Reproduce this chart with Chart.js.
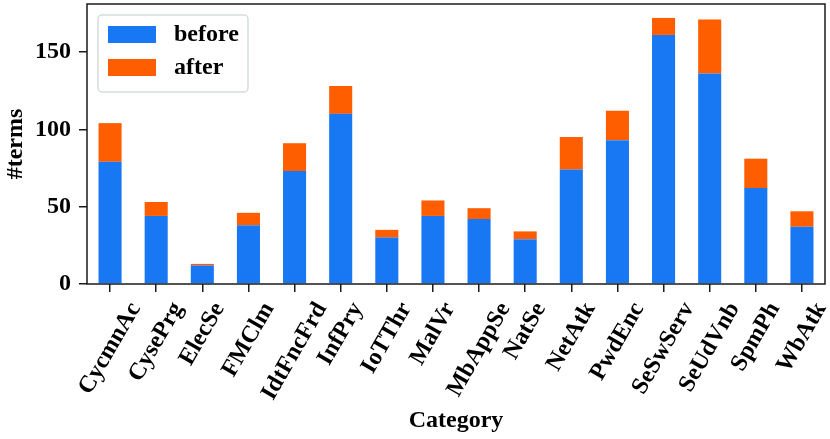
<!DOCTYPE html>
<html>
<head>
<meta charset="utf-8">
<script src="https://cdn.jsdelivr.net/npm/chart.js@4.4.0/dist/chart.umd.min.js"></script>
<style>
  html, body { margin: 0; padding: 0; background: #fff; }
  #wrap { width: 830px; height: 439px; }
</style>
</head>
<body>
<div id="wrap"><canvas id="myChart" width="830" height="439"></canvas></div>
<script>
// data
var categories = ['CycmnAc', 'CysePrg', 'ElecSe', 'FMClm', 'IdtFncFrd', 'InfPry', 'IoTThr', 'MalVr',
                  'MbAppSe', 'NatSe', 'NetAtk', 'PwdEnc', 'SeSwServ', 'SeUdVnb', 'SpmPh', 'WbAtk'];
var before = [79, 44, 12, 38, 73, 110, 30, 44, 42, 29, 74, 93, 161, 136, 62, 37];
var after = [25, 9, 1, 8, 18, 18, 5, 10, 7, 5, 21, 19, 11, 35, 19, 10];
var yTicks = [0, 50, 100, 150];
var yMax = 181;

var FONT = 'Liberation Serif, Times New Roman, serif';
var FSIZE = 24;
var blue = '#1877F2';
var orange = '#FF5E00';

// full box round the plot
var framePlugin = {
    id: 'frame',
    afterDraw: function (chart) {
        var a = chart.chartArea, ctx = chart.ctx;
        ctx.save();
        ctx.strokeStyle = '#1a1a1a';
        ctx.lineWidth = 1.5;
        ctx.strokeRect(a.left, a.top, a.right - a.left, a.bottom - a.top);
        ctx.restore();
    }
};

// category labels, rotated 60 deg and centred under the tick like matplotlib
var xLabelPlugin = {
    id: 'xlabels',
    afterDraw: function (chart) {
        var ctx = chart.ctx, xs = chart.scales.x;
        var top = chart.chartArea.bottom + 14;
        var h = FSIZE * 1.1;
        ctx.save();
        ctx.font = 'bold ' + FSIZE + 'px ' + FONT;
        ctx.fillStyle = '#000';
        ctx.textAlign = 'center';
        ctx.textBaseline = 'middle';
        for (var i = 0; i < categories.length; i++) {
            var x = xs.getPixelForTick(i);
            var w = ctx.measureText(categories[i]).width;
            var bh = w * Math.sin(Math.PI / 3) + h * Math.cos(Math.PI / 3);
            ctx.save();
            ctx.translate(x, top + bh / 2);
            ctx.rotate(-Math.PI / 3);
            ctx.fillText(categories[i], 0, 0);
            ctx.restore();
        }
        ctx.restore();
    }
};

// legend box in the upper left of the plot
var legendPlugin = {
    id: 'boxlegend',
    afterDraw: function (chart) {
        var ctx = chart.ctx, a = chart.chartArea;
        var x0 = a.left + 11, y0 = a.top + 11, bw = 150, bh = 77, r = 4;
        ctx.save();
        ctx.beginPath();
        ctx.roundRect(x0, y0, bw, bh, r);
        ctx.fillStyle = 'rgba(255,255,255,0.8)';
        ctx.fill();
        ctx.strokeStyle = '#d5dcdc';
        ctx.lineWidth = 1.5;
        ctx.stroke();
        ctx.font = 'bold ' + FSIZE + 'px ' + FONT;
        ctx.textBaseline = 'middle';
        ctx.textAlign = 'left';
        chart.data.datasets.forEach(function (ds, i) {
            var py = y0 + 11 + i * 33;
            ctx.fillStyle = ds.backgroundColor;
            ctx.fillRect(x0 + 10, py, 48, 17);
            ctx.fillStyle = '#000';
            ctx.fillText(ds.label, x0 + 76, py + 9);
        });
        ctx.restore();
    }
};

var ctx = document.getElementById('myChart').getContext('2d');
var chart = new Chart(ctx, {
    type: 'bar',
    data: {
        labels: categories,
        datasets: [{
            label: 'before',
            data: before,
            backgroundColor: blue,
            barPercentage: 0.5,
            categoryPercentage: 1.0
        }, {
            label: 'after',
            data: after,
            backgroundColor: orange,
            barPercentage: 0.5,
            categoryPercentage: 1.0
        }]
    },
    options: {
        responsive: false,
        animation: false,
        layout: { padding: { top: 4, right: 5, left: 0, bottom: 0 } },
        plugins: {
            legend: { display: false },
            tooltip: { enabled: false }
        },
        scales: {
            x: {
                stacked: true,
                grid: { offset: false, drawOnChartArea: false, drawTicks: true, tickLength: 8, color: '#1a1a1a', lineWidth: 1.5 },
                border: { display: false },
                ticks: { display: false },
                title: { display: true, text: 'Category', color: '#000', font: { family: FONT, size: FSIZE, weight: 'bold' }, padding: { top: 4, bottom: 4 } },
                afterFit: function (scale) {
                    scale.height = 155;
                    scale.paddingLeft = 0;
                    scale.paddingRight = 0;
                }
            },
            y: {
                stacked: true,
                min: 0,
                max: yMax,
                afterBuildTicks: function (scale) {
                    scale.ticks = yTicks.map(function (v) { return { value: v }; });
                },
                grid: { drawOnChartArea: false, drawTicks: true, tickLength: 8, color: '#1a1a1a', lineWidth: 1.5 },
                border: { display: false },
                ticks: { color: '#000', padding: 8, font: { family: FONT, size: FSIZE, weight: 'bold' } },
                title: { display: true, text: '#terms', color: '#000', font: { family: FONT, size: FSIZE, weight: 'bold' }, padding: { top: 1, bottom: 1 } },
                afterFit: function (scale) {
                    scale.width = 87;
                    scale.paddingTop = 0;
                    scale.paddingBottom = 0;
                }
            }
        }
    },
    plugins: [framePlugin, xLabelPlugin, legendPlugin]
});
</script>
</body>
</html>
